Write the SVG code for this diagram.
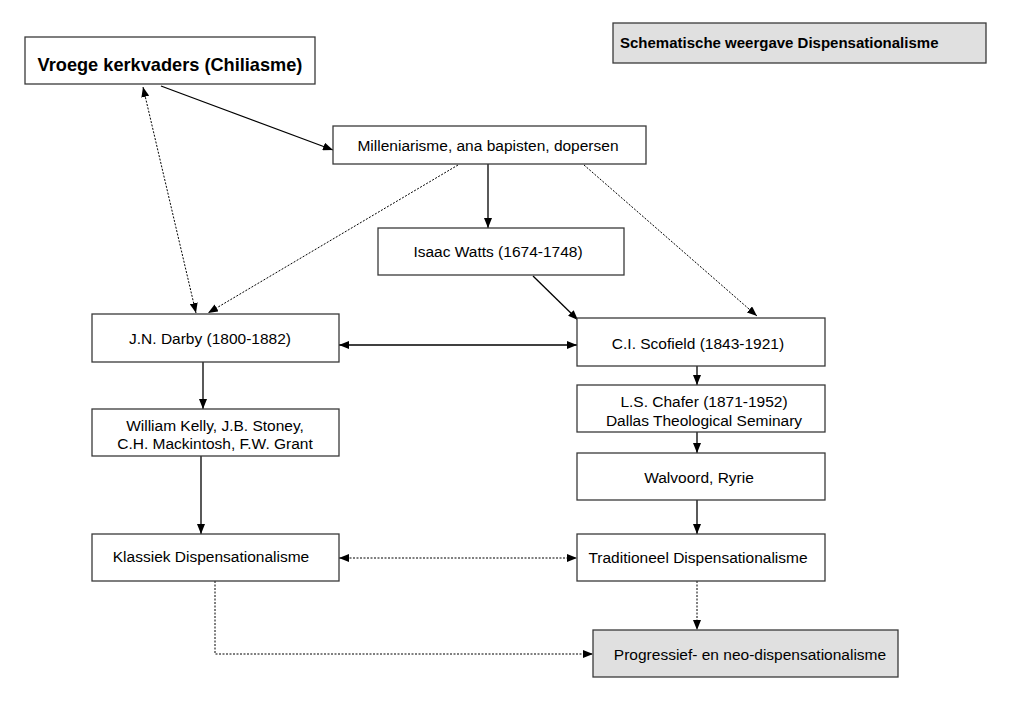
<svg xmlns="http://www.w3.org/2000/svg" width="1023" height="708" viewBox="0 0 1023 708">
<style>
.box{fill:#ffffff;stroke:#3a3a3a;stroke-width:1.3}
.gray{fill:#e0e0e0}
.t{font-family:"Liberation Sans",Arial,sans-serif;font-size:15.5px;fill:#000;text-anchor:middle}
.b{font-weight:bold}
.c{fill:none;stroke:#000;stroke-width:1.3}
.d{fill:none;stroke:#000;stroke-width:1;stroke-dasharray:2 1.5}
</style>
<defs>
<marker id="ah" viewBox="0 0 10 8" refX="10" refY="4" markerWidth="10" markerHeight="8" markerUnits="userSpaceOnUse" orient="auto-start-reverse">
<path d="M0,0 L10,4 L0,8 Z" fill="#000"/>
</marker>
</defs>
<rect width="1023" height="708" fill="#ffffff"/>
<g id="connectors">
<path class="c" d="M161,86 L333,150" marker-end="url(#ah)"/>
<path class="d" d="M143,87 L196,313" marker-start="url(#ah)" marker-end="url(#ah)"/>
<path class="d" d="M458,165 L208,313" marker-end="url(#ah)"/>
<path class="c" d="M488,164 L488,228" marker-end="url(#ah)"/>
<path class="d" d="M584,165 L757,316" marker-end="url(#ah)"/>
<path class="c" d="M533,276 L578,320" marker-end="url(#ah)"/>
<path class="c" d="M339,345 L577,345" marker-start="url(#ah)" marker-end="url(#ah)"/>
<path class="c" d="M203,362 L203,409" marker-end="url(#ah)"/>
<path class="c" d="M697,366 L697,385" marker-end="url(#ah)"/>
<path class="c" d="M697,432 L697,453" marker-end="url(#ah)"/>
<path class="c" d="M697,500 L697,534" marker-end="url(#ah)"/>
<path class="c" d="M201,456 L201,534" marker-end="url(#ah)"/>
<path class="d" d="M339,558 L577,558" marker-start="url(#ah)" marker-end="url(#ah)"/>
<path class="d" d="M697,581 L697,630" marker-end="url(#ah)"/>
<path class="d" d="M215,581 L215,654 L593,654" marker-end="url(#ah)"/>
</g>
<g id="title">
<rect class="box gray" x="613" y="23" width="373" height="40"/>
<text class="t b" x="620" y="48" style="text-anchor:start;font-size:15px">Schematische weergave Dispensationalisme</text>
</g>
<g id="kerkvaders">
<rect class="box" x="25" y="37" width="290" height="47"/>
<text class="t b" x="170" y="71" style="font-size:18.2px">Vroege kerkvaders (Chiliasme)</text>
</g>
<g id="milleniarisme">
<rect class="box" x="333" y="126" width="313" height="38"/>
<text class="t" x="488" y="151">Milleniarisme, ana bapisten, dopersen</text>
</g>
<g id="watts">
<rect class="box" x="378" y="228" width="246" height="47"/>
<text class="t" x="498" y="257">Isaac Watts (1674-1748)</text>
</g>
<g id="darby">
<rect class="box" x="92" y="314" width="247" height="48"/>
<text class="t" x="210" y="344">J.N. Darby (1800-1882)</text>
</g>
<g id="scofield">
<rect class="box" x="577" y="318" width="248" height="48"/>
<text class="t" x="698" y="349">C.I. Scofield (1843-1921)</text>
</g>
<g id="kelly">
<rect class="box" x="92" y="409" width="247" height="47"/>
<text class="t" x="215" y="431">William Kelly, J.B. Stoney,</text>
<text class="t" x="215" y="449">C.H. Mackintosh, F.W. Grant</text>
</g>
<g id="chafer">
<rect class="box" x="577" y="385" width="248" height="47"/>
<text class="t" x="704" y="407">L.S. Chafer (1871-1952)</text>
<text class="t" x="704" y="426">Dallas Theological Seminary</text>
</g>
<g id="walvoord">
<rect class="box" x="577" y="453" width="248" height="47"/>
<text class="t" x="699" y="483">Walvoord, Ryrie</text>
</g>
<g id="traditioneel">
<rect class="box" x="577" y="534" width="248" height="47"/>
<text class="t" x="698" y="563">Traditioneel Dispensationalisme</text>
</g>
<g id="klassiek">
<rect class="box" x="92" y="534" width="247" height="47"/>
<text class="t" x="211" y="562">Klassiek Dispensationalisme</text>
</g>
<g id="progressief">
<rect class="box gray" x="593" y="630" width="305" height="47"/>
<text class="t" x="750" y="660">Progressief- en neo-dispensationalisme</text>
</g>
</svg>
